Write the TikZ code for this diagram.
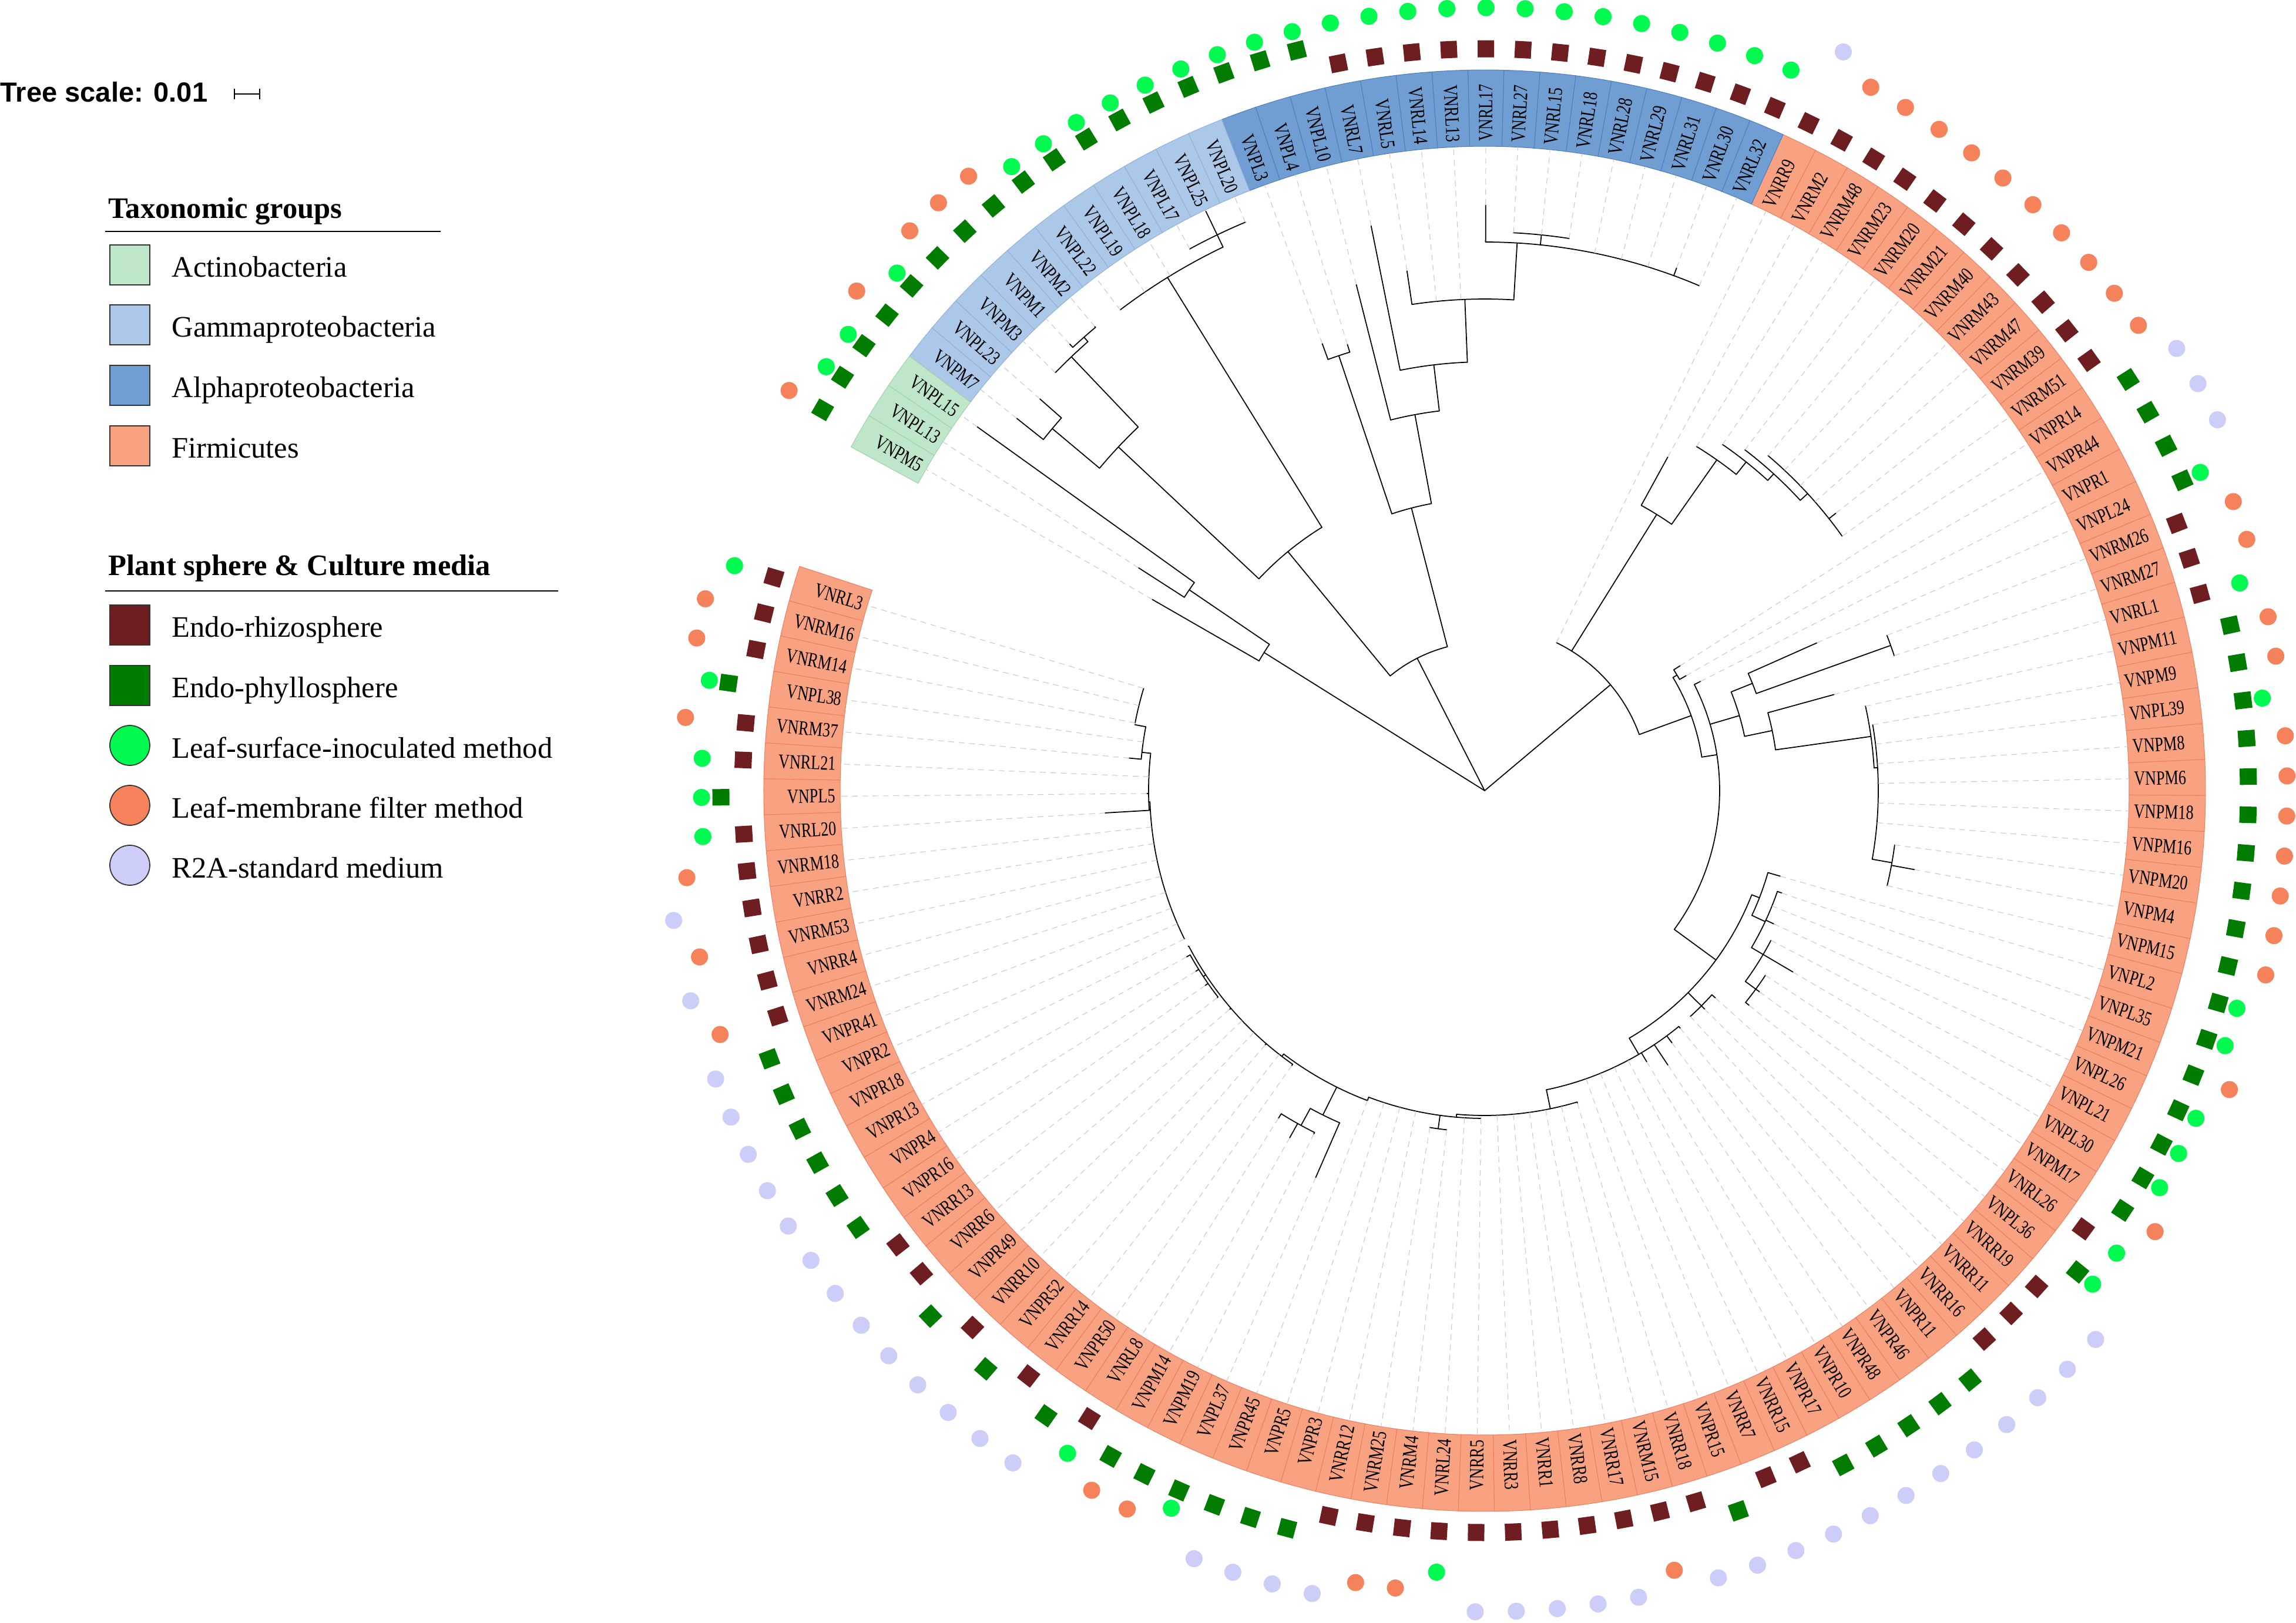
\documentclass[tikz,border=0pt]{standalone}
\usepackage{fontspec}
\setmainfont{Liberation Serif}
\newfontfamily\scalefont{Liberation Sans}
\usetikzlibrary{positioning}

\definecolor{actinoFill}{RGB}{190,230,200}
\definecolor{gammaFill}{RGB}{172,200,232}
\definecolor{alphaFill}{RGB}{112,158,210}
\definecolor{firmiFill}{RGB}{248,162,130}
\definecolor{actinoLine}{RGB}{160,212,176}
\definecolor{gammaLine}{RGB}{145,178,222}
\definecolor{alphaLine}{RGB}{78,128,192}
\definecolor{firmiLine}{RGB}{238,128,98}
\definecolor{rhizoRed}{RGB}{110,30,33}
\definecolor{phylloGreen}{RGB}{0,125,0}
\definecolor{surfGreen}{RGB}{0,250,80}
\definecolor{membOrange}{RGB}{245,130,90}
\definecolor{rtwoLilac}{RGB}{205,205,250}
\definecolor{guideGray}{RGB}{200,200,200}

\def\aO{163.3}   % angle of the first leaf
\def\dA{2.866}   % angle between two leaves
\def\rIn{10.97}
\def\rOut{12.27}
\def\rLab{11.05}

% sphere / medium letters of a strain name
\def\getkind VN#1#2#3\relax{\def\sph{#1}\def\med{#2}}

% leaf: index, parent radius, tip radius
\newcommand{\lf}[3]{%
  \pgfmathsetmacro\lfAng{\aO+(#1-1)*\dA}%
  \draw[branch] (\lfAng:#2) -- (\lfAng:#3);%
  \draw[guide] (\lfAng:#3) -- (\lfAng:\rIn);}
% inner node: index, parent radius, radius, arc from, arc to
\newcommand{\nd}[5]{%
  \pgfmathsetmacro\ndAng{\aO+(#1-1)*\dA}%
  \pgfmathsetmacro\ndFrom{\aO+(#4-1)*\dA}%
  \pgfmathsetmacro\ndTo{\aO+(#5-1)*\dA}%
  \draw[branch] (\ndAng:#2) -- (\ndAng:#3);%
  \draw[branch] (\ndFrom:#3) arc[start angle=\ndFrom, end angle=\ndTo, radius=#3];}

\tikzset{
    branch/.style={line width=0.5pt, black, line cap=round},
    guide/.style={line width=0.3pt, guideGray, dash pattern=on 2.8pt off 2.2pt},
    leaflabel/.style={
        font=\fontsize{9.8}{10}\selectfont,
        inner sep=0pt,
        xscale=0.76
    },
    rhizobox/.style={rectangle, fill=rhizoRed, minimum width=0.29cm, minimum height=0.28cm, inner sep=0pt},
    phyllobox/.style={rectangle, fill=phylloGreen, minimum width=0.29cm, minimum height=0.28cm, inner sep=0pt},
    dot/.style={circle, minimum size=0.29cm, inner sep=0pt},
    % Legend Styles
    legendbox/.style={rectangle, draw=black!80, line width=0.5pt, minimum size=0.68cm, inner sep=0pt},
    legenddot/.style={circle, draw=black!80, line width=0.5pt, minimum size=0.68cm, inner sep=0pt},
    legendtext/.style={
        font=\fontsize{14.4}{17}\selectfont,
        anchor=west,
        inner sep=0pt,
        text height=0.52cm,
        text depth=0.10cm
    },
    legendhead/.style={
        font=\fontsize{14.4}{17}\selectfont\bfseries,
        anchor=base west,
        inner sep=0pt
    }
}

\begin{document}
\begin{tikzpicture}
    \useasboundingbox (-25.27,-14.16) rectangle (13.81,13.46);
    \fill[white] (-25.27,-14.16) rectangle (13.81,13.46);

    % Ring, labels and sample markers
    \foreach \nm [count=\i] in {VNRL3, VNRM16, VNRM14, VNPL38, VNRM37, VNRL21, VNPL5, VNRL20, VNRM18, VNRR2,
        VNRM53, VNRR4, VNRM24, VNPR41, VNPR2, VNPR18, VNPR13, VNPR4, VNPR16, VNRR13,
        VNRR6, VNPR49, VNRR10, VNPR52, VNRR14, VNPR50, VNRL8, VNPM14, VNPM19, VNPL37,
        VNPR45, VNPR5, VNPR3, VNRR12, VNRM25, VNRM4, VNRL24, VNRR5, VNRR3, VNRR1,
        VNRR8, VNRR17, VNRM15, VNRR18, VNPR15, VNRR7, VNRR15, VNPR17, VNPR10, VNPR48,
        VNPR46, VNPR11, VNRR16, VNRR11, VNRR19, VNPL36, VNRL26, VNPM17, VNPL30, VNPL21,
        VNPL26, VNPM21, VNPL35, VNPL2, VNPM15, VNPM4, VNPM20, VNPM16, VNPM18, VNPM6,
        VNPM8, VNPL39, VNPM9, VNPM11, VNRL1, VNRM27, VNRM26, VNPL24, VNPR1, VNPR44,
        VNPR14, VNRM51, VNRM39, VNRM47, VNRM43, VNRM40, VNRM21, VNRM20, VNRM23, VNRM48,
        VNRM2, VNRR9, VNRL32, VNRL30, VNRL31, VNRL29, VNRL28, VNRL18, VNRL15, VNRL27,
        VNRL17, VNRL13, VNRL14, VNRL5, VNRL7, VNPL10, VNPL4, VNPL3, VNPL20, VNPL25,
        VNPL17, VNPL18, VNPL19, VNPL22, VNPM2, VNPM1, VNPM3, VNPL23, VNPM7, VNPL15,
        VNPL13, VNPM5}{
        \pgfmathsetmacro\tc{\aO+(\i-1)*\dA}
        \pgfmathsetmacro\ta{\tc-\dA/2}
        \pgfmathsetmacro\tb{\tc+\dA/2}
        \ifnum\i<93 \def\gf{firmiFill}\def\gl{firmiLine}\else
        \ifnum\i<109 \def\gf{alphaFill}\def\gl{alphaLine}\else
        \ifnum\i<120 \def\gf{gammaFill}\def\gl{gammaLine}\else
        \def\gf{actinoFill}\def\gl{actinoLine}\fi\fi\fi
        \filldraw[fill=\gf, draw=\gl, line width=0.3pt] (\ta:\rIn) arc[start angle=\ta, end angle=\tb, radius=\rIn]
            -- (\tb:\rOut) arc[start angle=\tb, end angle=\ta, radius=\rOut] -- cycle;
        \pgfmathtruncatemacro\rside{and(\tc>270,\tc<450)}
        \ifnum\rside=1
            \node[rotate=\tc, leaflabel, anchor=west] (lbl\i) at (\tc:\rLab) {\nm};
        \else
            \node[rotate=\tc+180, leaflabel, anchor=east] (lbl\i) at (\tc:\rLab) {\nm};
        \fi
        \expandafter\getkind\nm\relax
        \if R\sph
            \node[rhizobox, rotate=\tc] (sq\i) at (\tc:12.63) {};
        \else
            \node[phyllobox, rotate=\tc] (sq\i) at (\tc:13.00) {};
        \fi
        \if L\med \node[dot, fill=surfGreen] (dt\i) at (\tc:13.33) {};\fi
        \if M\med \node[dot, fill=membOrange] (dt\i) at (\tc:13.66) {};\fi
        \if R\med \node[dot, fill=rtwoLilac] (dt\i) at (\tc:13.98) {};\fi
    }

    % Tree: Actinobacteria
    \nd{121.25}{0}{4.43}{120.5}{122}
    \nd{120.5}{4.43}{6.08}{120}{121}
    \lf{120}{6.08}{10.63}
    \lf{121}{6.08}{7.01}
    \lf{122}{4.43}{6.53}

    % Tree: Proteobacteria
    \nd{110.45}{0}{2.53}{114.8}{106.1}
    \nd{114.8}{2.53}{5.27}{117.37}{112.1}
    \nd{117.37}{5.27}{8.55}{118.5}{116.25}
    \nd{118.5}{8.55}{9.60}{118}{119}
    \lf{118}{9.60}{10.09}
    \lf{119}{9.60}{10.18}
    \nd{116.25}{8.55}{10.20}{117}{115.5}
    \lf{117}{10.20}{10.20}
    \nd{115.5}{10.20}{10.30}{116}{115}
    \lf{116}{10.30}{10.38}
    \lf{115}{10.30}{10.32}
    \nd{112.1}{5.27}{10.27}{114}{110}
    \lf{114}{10.27}{10.27}
    \lf{113}{10.27}{10.27}
    \lf{112}{10.27}{10.27}
    \nd{110}{10.27}{10.50}{111}{109}
    \lf{111}{10.50}{10.50}
    \lf{110}{10.50}{10.95}
    \lf{109}{10.50}{10.50}
    \nd{106.1}{2.53}{4.97}{107.5}{104.7}
    \nd{107.5}{4.97}{7.81}{108}{107}
    \lf{108}{7.81}{8.10}
    \lf{107}{7.81}{7.95}
    \nd{104.7}{4.97}{6.51}{106}{103.41}
    \lf{106}{6.51}{8.89}
    \nd{103.41}{6.51}{7.30}{105}{101.84}
    \lf{105}{7.30}{9.81}
    \nd{101.84}{7.30}{8.37}{104}{99.85}
    \lf{104}{8.37}{8.95}
    \lf{103}{8.37}{8.37}
    \lf{102}{8.37}{8.37}
    \nd{99.85}{8.37}{9.34}{101}{93}
    \lf{101}{9.34}{9.97}
    \nd{99}{9.34}{9.51}{100}{98}
    \lf{100}{9.51}{9.51}
    \lf{99}{9.51}{9.51}
    \lf{98}{9.51}{9.51}
    \lf{97}{9.34}{9.34}
    \lf{96}{9.34}{9.34}
    \lf{95}{9.34}{9.34}
    \lf{94}{9.34}{9.48}
    \lf{93}{9.34}{9.34}

    % Tree: Firmicutes
    \nd{83.62}{0}{2.80}{92}{76.6}
    \lf{92}{2.80}{2.80}
    \nd{89.9}{2.80}{5.54}{91}{88.8}
    \lf{91}{5.54}{6.48}
    \nd{88.8}{5.54}{6.88}{90}{87.6}
    \lf{90}{6.88}{6.88}
    \nd{87.6}{6.88}{7.15}{89}{86.25}
    \lf{89}{7.15}{7.15}
    \nd{86.25}{7.15}{7.30}{88}{84.5}
    \lf{88}{7.30}{7.30}
    \nd{84.5}{7.30}{7.47}{87}{82}
    \lf{87}{7.47}{7.47}
    \lf{86}{7.47}{7.47}
    \lf{85}{7.47}{7.47}
    \lf{84}{7.47}{7.47}
    \lf{83}{7.47}{7.62}
    \lf{82}{7.47}{7.47}
    \nd{76.6}{2.80}{3.74}{80.45}{72.7}
    \nd{80.45}{3.74}{3.82}{81}{80}
    \lf{81}{3.82}{3.95}
    \lf{80}{3.82}{3.95}
    \nd{72.7}{3.74}{4.00}{79}{57}
    \lf{79}{4.00}{4.12}
    \nd{75.36}{4.00}{4.52}{77.25}{73.75}
    \nd{77.25}{4.52}{4.91}{78}{76.5}
    \lf{78}{4.91}{6.19}
    \nd{76.5}{4.91}{7.34}{77}{76}
    \lf{77}{7.34}{7.34}
    \lf{76}{7.34}{7.34}
    \nd{73.75}{4.52}{5.00}{75}{72.42}
    \lf{75}{5.00}{6.17}
    \nd{72.42}{5.00}{6.64}{74}{70.8}
    \lf{74}{6.64}{6.64}
    \nd{70.8}{6.64}{6.70}{73}{66.13}
    \lf{73}{6.70}{6.70}
    \lf{72}{6.70}{6.70}
    \lf{71}{6.70}{6.70}
    \lf{70}{6.70}{6.70}
    \lf{69}{6.70}{6.70}
    \lf{68}{6.70}{6.70}
    \nd{66.13}{6.70}{7.04}{67}{65}
    \lf{67}{7.04}{7.04}
    \lf{66}{7.04}{7.44}
    \lf{65}{7.04}{7.04}
    \nd{57}{4.00}{4.88}{62.2}{48.8}
    \nd{62.2}{4.88}{5.02}{64}{60.9}
    \lf{64}{5.02}{5.24}
    \nd{60.9}{5.02}{5.27}{63}{59}
    \lf{63}{5.27}{5.35}
    \lf{62}{5.27}{5.27}
    \lf{61}{5.27}{5.42}
    \nd{59}{5.27}{5.50}{60}{57}
    \lf{60}{5.50}{5.50}
    \lf{59}{5.50}{6.09}
    \nd{57}{5.50}{5.72}{58}{56}
    \lf{58}{5.72}{5.72}
    \lf{57}{5.72}{5.80}
    \lf{56}{5.72}{5.80}
    \nd{54}{4.88}{5.20}{55}{53}
    \lf{55}{5.20}{5.28}
    \lf{54}{5.20}{5.28}
    \lf{53}{5.20}{5.20}
    \nd{48.8}{4.88}{5.20}{52}{42.3}
    \lf{52}{5.20}{5.24}
    \lf{51}{5.20}{5.35}
    \lf{50}{5.20}{5.62}
    \lf{49}{5.20}{5.38}
    \lf{48}{5.20}{5.20}
    \lf{47}{5.20}{5.20}
    \lf{46}{5.20}{5.20}
    \lf{45}{5.20}{5.20}
    \nd{42.3}{5.20}{5.53}{44}{36.5}
    \lf{44}{5.53}{5.55}
    \lf{43}{5.53}{5.53}
    \lf{42}{5.53}{5.53}
    \lf{41}{5.53}{5.53}
    \lf{40}{5.53}{5.53}
    \lf{39}{5.53}{5.53}
    \nd{36.5}{5.53}{5.58}{38}{31}
    \lf{38}{5.58}{5.58}
    \lf{37}{5.58}{5.58}
    \nd{35.5}{5.58}{5.81}{36}{35}
    \lf{36}{5.81}{5.81}
    \lf{35}{5.81}{5.81}
    \lf{34}{5.58}{5.58}
    \lf{33}{5.58}{5.58}
    \lf{32}{5.58}{5.58}
    \nd{31}{5.58}{5.64}{31}{25.2}
    \lf{31}{5.64}{5.64}
    \nd{28.98}{5.64}{6.17}{28.2}{30}
    \lf{30}{6.17}{7.19}
    \nd{28.2}{6.17}{6.50}{27}{29}
    \lf{27}{6.50}{6.59}
    \lf{28}{6.50}{6.78}
    \lf{29}{6.50}{6.53}
    \nd{25.2}{5.64}{5.69}{26}{16.5}
    \lf{26}{5.69}{5.72}
    \lf{25}{5.69}{5.69}
    \lf{24}{5.69}{5.72}
    \lf{23}{5.69}{5.69}
    \lf{22}{5.69}{5.69}
    \lf{21}{5.69}{5.72}
    \nd{18.5}{5.69}{5.74}{20}{17}
    \lf{20}{5.74}{5.76}
    \lf{19}{5.74}{5.80}
    \lf{18}{5.74}{5.80}
    \lf{17}{5.74}{5.81}
    \nd{16.5}{5.69}{5.70}{16}{7.5}
    \lf{16}{5.70}{5.70}
    \lf{15}{5.70}{5.70}
    \lf{14}{5.70}{5.70}
    \lf{13}{5.70}{5.70}
    \lf{12}{5.70}{5.70}
    \lf{11}{5.70}{5.70}
    \lf{10}{5.70}{5.70}
    \lf{9}{5.70}{5.70}
    \nd{7.5}{5.70}{5.72}{8}{4.6}
    \lf{8}{5.72}{6.47}
    \lf{7}{5.72}{5.75}
    \lf{6}{5.72}{5.72}
    \nd{4.6}{5.72}{5.87}{5}{3.1}
    \lf{5}{5.87}{6.08}
    \lf{4}{5.87}{5.87}
    \nd{3.1}{5.87}{6.06}{3}{1}
    \lf{3}{6.06}{6.06}
    \lf{2}{6.06}{6.06}
    \lf{1}{6.06}{6.06}

    % Tree scale
    \node[anchor=base west, inner sep=0pt, font=\scalefont\bfseries\fontsize{13.4}{16}\selectfont] (scaleText) at (-25.27,11.72) {Tree scale: 0.01};
    \draw[line width=0.4pt] (-21.28,11.86) -- (-20.85,11.86);
    \draw[line width=0.4pt] (-21.28,11.77) -- (-21.28,11.95);
    \draw[line width=0.4pt] (-20.85,11.77) -- (-20.85,11.95);

    % Legend: taxonomic groups
    \node[legendhead] (taxHead) at (-23.43,9.74) {Taxonomic groups};
    \draw[line width=0.6pt] (-23.48,9.52) -- (-17.77,9.52);
    \node[legendbox, fill=actinoFill] (keyActino) at (-23.06,8.95) {};
    \node[legendtext, right=0.36cm of keyActino] {Actinobacteria};
    \node[legendbox, fill=gammaFill] (keyGamma) at (-23.06,7.93) {};
    \node[legendtext, right=0.36cm of keyGamma] {Gammaproteobacteria};
    \node[legendbox, fill=alphaFill] (keyAlpha) at (-23.06,6.90) {};
    \node[legendtext, right=0.36cm of keyAlpha] {Alphaproteobacteria};
    \node[legendbox, fill=firmiFill] (keyFirmi) at (-23.06,5.87) {};
    \node[legendtext, right=0.36cm of keyFirmi] {Firmicutes};

    % Legend: plant sphere and culture media
    \node[legendhead] (mediaHead) at (-23.43,3.66) {Plant sphere \& Culture media};
    \draw[line width=0.6pt] (-23.48,3.40) -- (-15.77,3.40);
    \node[legendbox, fill=rhizoRed] (keyRhizo) at (-23.06,2.82) {};
    \node[legendtext, right=0.36cm of keyRhizo] {Endo-rhizosphere};
    \node[legendbox, fill=phylloGreen] (keyPhyllo) at (-23.06,1.79) {};
    \node[legendtext, right=0.36cm of keyPhyllo] {Endo-phyllosphere};
    \node[legenddot, fill=surfGreen] (keySurf) at (-23.06,0.77) {};
    \node[legendtext, right=0.36cm of keySurf] {Leaf-surface-inoculated method};
    \node[legenddot, fill=membOrange] (keyMemb) at (-23.06,-0.25) {};
    \node[legendtext, right=0.36cm of keyMemb] {Leaf-membrane filter method};
    \node[legenddot, fill=rtwoLilac] (keyRtwo) at (-23.06,-1.27) {};
    \node[legendtext, right=0.36cm of keyRtwo] {R2A-standard medium};
\end{tikzpicture}
\end{document}
